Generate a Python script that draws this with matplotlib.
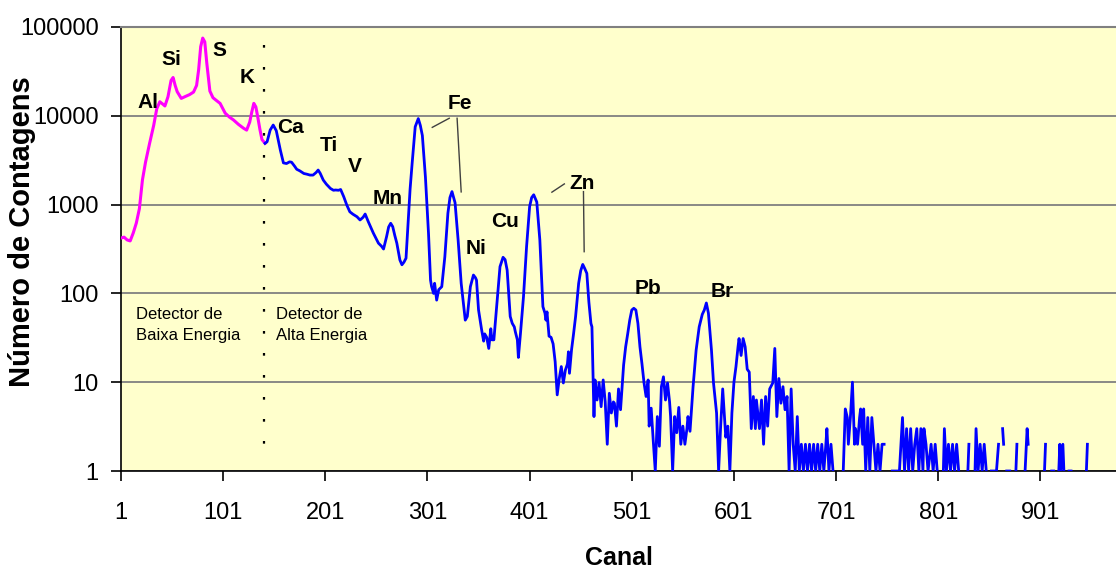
import numpy as np
import matplotlib
matplotlib.use("Agg")
import matplotlib.pyplot as plt

# ---------------- data ----------------
# low-energy detector (magenta): (canal, contagens)
pontos_baixa = [(1, 420), (4, 430), (7, 400), (10, 390), (13, 480), (16, 620), (19, 900),
                (22, 1900), (25, 3000), (29, 4900), (33, 7800), (36, 12000), (39, 14400),
                (42, 13500), (44, 12900), (47, 16400), (50, 25000), (52, 27000), (54, 22000),
                (56, 18700), (60, 15700), (64, 16500), (68, 17300), (72, 18500), (75, 22000),
                (77, 33000), (79, 60000), (81, 75000), (83, 68000), (85, 39000), (88, 19000),
                (91, 16000), (94, 15000), (98, 13800), (103, 10700), (107, 9700), (111, 9000),
                (116, 8000), (121, 7240), (124, 6900), (127, 8500), (129, 11000), (131, 13800),
                (133, 12600), (135, 9500), (137, 7000), (139, 5400), (142, 4900)]

# high-energy detector (blue): (canal, contagens); 0 = no counts (gap on log axis)
pontos_alta = [(142, 4900), (144, 5100), (147, 6900), (150, 7870), (153, 6800), (155, 5300),
               (157, 4100), (160, 2950), (163, 2900), (166, 3030), (168, 3000), (171, 2700),
               (173, 2500), (176, 2400), (180, 2240), (183, 2200), (186, 2150), (189, 2150),
               (192, 2300), (194, 2450), (196, 2250), (199, 1890), (202, 1700), (206, 1520),
               (209, 1450), (211, 1460), (214, 1450), (216, 1480), (219, 1230), (222, 990),
               (225, 830), (228, 780), (232, 730), (235, 671), (238, 720), (240, 783),
               (243, 645), (246, 540), (248, 478), (251, 410), (253, 368), (256, 340),
               (258, 316), (261, 437), (263, 560), (265, 616), (267, 564), (269, 450),
               (271, 368), (274, 238), (276, 210), (278, 225), (280, 249), (282, 616),
               (284, 1500), (286, 2920), (289, 7530), (292, 9300), (294, 7800), (296, 6000),
               (299, 2040), (302, 478), (304, 141), (305, 120), (307, 100), (308, 130),
               (310, 84), (312, 110), (315, 119), (318, 258), (321, 800), (323, 1200),
               (325, 1400), (328, 1050), (331, 400), (334, 130), (336, 80), (338, 50),
               (340, 55), (343, 119), (346, 161), (348, 150), (349, 141), (351, 65),
               (354, 39), (356, 29), (357, 35), (359, 32), (361, 24), (363, 40), (364, 30),
               (366, 30), (369, 78), (372, 200), (375, 255), (377, 240), (379, 183),
               (382, 55), (384, 46), (386, 42), (387, 37), (389, 30), (390, 19), (392, 35),
               (395, 92), (398, 335), (401, 950), (403, 1200), (405, 1290), (408, 1070),
               (411, 400), (414, 71), (416, 60), (417, 50), (418, 62), (420, 33), (422, 32),
               (424, 27), (426, 17), (428, 7.2), (430, 11), (432, 15), (434, 9.8),
               (436, 13.7), (438, 16), (439, 22), (440, 12.6), (442, 23), (444, 35),
               (446, 55), (449, 130), (451, 180), (453, 212), (455, 190), (457, 168),
               (459, 80), (461, 46), (462, 42), (464, 4.1), (465, 10.6), (467, 6.3),
               (469, 9.9), (471, 5.3), (473, 10.6), (475, 6), (477, 2.0), (479, 7.5),
               (481, 4.5), (483, 6), (484, 5.8), (486, 3.2), (488, 8.4), (490, 4.9),
               (493, 15.6), (495, 25), (497, 35), (499, 50), (501, 65), (503, 68), (505, 65),
               (507, 46), (509, 25), (511, 16), (513, 9.8), (515, 6.9), (517, 10.6),
               (518, 3.2), (520, 5.1), (522, 2.2), (524, 1), (526, 4.1), (528, 1.9),
               (530, 8.9), (532, 11.5), (534, 6.3), (536, 9.8), (538, 6), (539, 4.1),
               (541, 1), (543, 4.1), (545, 2.7), (547, 5.2), (549, 2), (551, 3.2), (553, 2),
               (555, 3), (556, 4.1), (558, 2.8), (561, 8.9), (564, 23), (567, 42), (570, 58),
               (572, 65), (574, 78), (576, 60), (579, 23), (581, 9.8), (584, 4.5), (586, 1),
               (588, 3.2), (590, 8.4), (593, 2.4), (595, 3.2), (597, 1), (599, 4.5),
               (601, 10), (603, 15), (605, 25), (606, 31), (608, 20), (610, 31), (612, 25),
               (614, 14), (616, 13), (618, 3), (620, 6.9), (622, 3), (623, 6.3), (626, 3),
               (628, 6.3), (630, 2), (632, 6.9), (634, 3.2), (636, 8.4), (639, 9.8),
               (641, 24), (643, 4.1), (645, 11), (647, 5.8), (649, 8.9), (651, 4.9),
               (653, 6.9), (655, 1), (657, 8.4), (659, 2), (661, 1), (663, 4.1), (665, 1),
               (667, 2), (669, 1), (671, 2), (673, 1), (675, 2), (677, 1), (679, 2), (681, 1),
               (683, 2), (685, 1), (687, 2), (689, 1), (691, 2), (692, 3), (694, 1), (696, 2),
               (698, 1), (699, 0), (708, 1), (710, 5), (712, 4), (713, 2), (715, 4), (717, 10),
               (719, 2), (720, 3), (722, 2), (724, 4), (725, 5), (727, 2), (728, 5), (730, 1),
               (732, 4), (734, 1), (736, 4), (738, 2), (740, 1), (742, 2), (744, 1), (746, 2),
               (748, 2), (749, 0), (756, 1), (758, 1), (760, 1), (763, 1), (766, 4), (768, 1),
               (770, 3), (772, 1), (774, 3), (776, 1), (778, 2), (780, 3), (782, 1), (784, 3),
               (786, 1), (787, 3), (789, 2), (791, 1), (794, 2), (796, 1), (798, 2), (800, 1),
               (801, 0), (806, 1), (807, 3), (809, 1), (811, 2), (813, 1), (815, 2), (817, 1),
               (819, 2), (821, 1), (822, 0), (830, 1), (831, 2), (832, 0), (837, 1), (838, 3),
               (840, 1), (842, 2), (844, 1), (846, 2), (848, 1), (849, 0), (853, 1), (858, 1),
               (860, 2), (861, 0), (864, 3), (865, 2), (866, 0), (868, 1), (871, 1), (872, 0),
               (877, 1), (878, 2), (879, 0), (886, 1), (888, 3), (889, 2), (890, 0), (905, 1),
               (906, 2), (907, 0), (912, 1), (914, 1), (916, 0), (919, 1), (920, 2), (921, 1),
               (923, 2), (924, 1), (925, 0), (929, 1), (931, 1), (932, 0), (946, 1), (947, 2)]

canal_baixa = [p[0] for p in pontos_baixa]
contagens_baixa = [p[1] for p in pontos_baixa]
canal_alta = [p[0] for p in pontos_alta]
contagens_alta = [p[1] for p in pontos_alta]

x_ticks = [1, 101, 201, 301, 401, 501, 601, 701, 801, 901]
y_ticks = [1, 10, 100, 1000, 10000, 100000]

elementos = ["Al", "Si", "S", "K", "Ca", "Ti", "V", "Mn", "Fe", "Ni", "Cu", "Zn", "Pb", "Br"]
elem_canal = [27, 50, 97, 124, 167, 204, 230, 262, 333, 349, 377, 452, 517, 590]
elem_cont = [14300, 42500, 55000, 26700, 7300, 4570, 2720, 1186, 13600, 324, 637, 1707, 115, 104]

# ---------------- fonts ----------------
plt.rcParams["font.family"] = ["Liberation Sans", "DejaVu Sans"]

# ---------------- figure ----------------
fig = plt.figure(figsize=(11.16, 5.68), dpi=100)
ax = fig.add_axes([121 / 1116, 1 - 471 / 568, 1 - 121 / 1116, (471 - 27) / 568])
ax.set_facecolor("#FFFFCC")

ax.set_yscale("log", nonpositive="mask")
ax.set_xlim(1, 975)
ax.set_ylim(1, 100000)

cb = np.array(canal_baixa, float)
yb = np.array(contagens_baixa, float)
ca = np.array(canal_alta, float)
ya = np.array(contagens_alta, float)
ya[ya <= 0] = np.nan

ax.plot(cb, yb, color="#FF00FF", lw=2.2, solid_joinstyle="round", zorder=3)
ax.plot(ca, ya, color="#0000FF", lw=2.0, solid_joinstyle="round", zorder=3)

# grid
ax.grid(axis="y", which="major", color="#808080", lw=1.3)
ax.grid(axis="x", visible=False)
ax.set_axisbelow(True)

ax.set_xticks(x_ticks)
ax.set_xticklabels([str(v) for v in x_ticks])
ax.set_yticks(y_ticks)
ax.set_yticklabels([str(v) for v in y_ticks])
ax.yaxis.set_minor_locator(matplotlib.ticker.NullLocator())
ax.tick_params(axis="both", which="major", labelsize=17, length=7, width=1.2,
               direction="out", color="black")
ax.tick_params(axis="x", pad=15)
ax.tick_params(axis="y", pad=9)

ax.spines["right"].set_visible(False)
ax.spines["top"].set_color("#808080")
ax.spines["top"].set_linewidth(1.5)
ax.spines["left"].set_color("black")
ax.spines["left"].set_linewidth(1.2)
ax.spines["bottom"].set_color("black")
ax.spines["bottom"].set_linewidth(1.2)

ax.set_xlabel("Canal", fontsize=18, fontweight="bold", labelpad=16)
ax.set_ylabel("Número de Contagens", fontsize=21, fontweight="bold")
ax.yaxis.set_label_coords((36 - 121) / 995, (471 - 232) / 444)

# detector separation
ax.plot([141, 141], [62000, 1.96], color="black", lw=1.6,
        linestyle=(0, (1.2, 8.7)), zorder=4)

ax.text(16, 44, "Detector de\nBaixa Energia", fontsize=12,
        ha="left", va="center", linespacing=1.45)
ax.text(153, 44, "Detector de\nAlta Energia", fontsize=12,
        ha="left", va="center", linespacing=1.45)

for nome, c, v in zip(elementos, elem_canal, elem_cont):
    ax.text(c, v, nome, fontsize=15, fontweight="bold",
            ha="center", va="center", zorder=5)

# leader lines
ax.plot([305.7, 322.3], [7410, 9380], color="#404040", lw=1.0)
ax.plot([330, 334], [9380, 1390], color="#404040", lw=1.0)
ax.plot([422.8, 435], [1380, 1710], color="#404040", lw=1.0)
ax.plot([453.7, 454.4], [1400, 295], color="#404040", lw=1.0)

fig.savefig("out.png", dpi=100)
